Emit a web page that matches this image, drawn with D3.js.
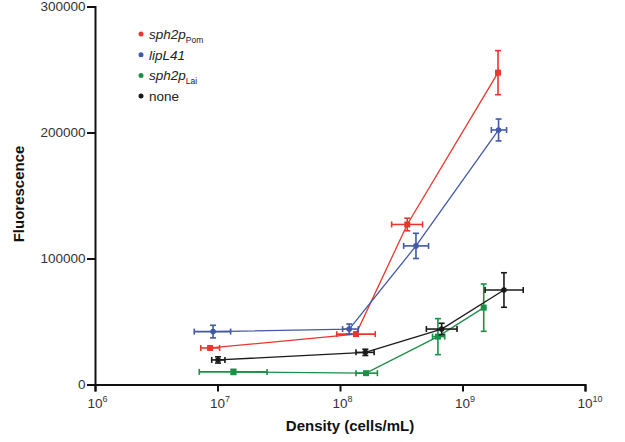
<!DOCTYPE html>
<html><head><meta charset="utf-8">
<script src="https://cdn.jsdelivr.net/npm/d3@7"></script>
<style>
body{margin:0;background:#fff;}
text{font-family:"Liberation Sans",Arial,sans-serif;}
</style></head>
<body><svg id="c" width="625" height="442"></svg>
<script>
const seriesNames = ["sph2p|Pom", "lipL41", "sph2p|Lai", "none"];
const seriesColors = ["#e8372c", "#4159a6", "#199146", "#1a1a1a"];
const seriesShapes = ["square", "circle", "square", "circle"];

const redX   = [8.7e6, 1.35e8, 3.54e8, 1.95e9];
const redXLo = [7.3e6, 9.4e7, 2.64e8, 1.95e9];
const redXHi = [1.04e7, 1.94e8, 4.72e8, 1.95e9];
const redY   = [29000, 40000, 127000, 247500];
const redYErr= [1000, 1500, 5000, 17500];

const blueX   = [9.2e6, 1.19e8, 4.17e8, 1.97e9];
const blueXLo = [6.46e6, 1.05e8, 3.31e8, 1.72e9];
const blueXHi = [1.28e7, 1.41e8, 5.28e8, 2.29e9];
const blueY   = [42000, 44000, 110000, 202000];
const blueYErr= [5000, 4000, 10000, 8700];

const greenX   = [1.35e7, 1.63e8, 6.3e8, 1.49e9];
const greenXLo = [7.1e6, 1.35e8, 5.69e8, 1.49e9];
const greenXHi = [2.54e7, 2.02e8, 7.16e8, 1.49e9];
const greenY   = [10000, 9000, 38000, 61000];
const greenYErr= [2000, 500, 14300, 18800];

const blackX   = [1.01e7, 1.61e8, 6.76e8, 2.18e9];
const blackXLo = [8.97e6, 1.35e8, 5.07e8, 1.53e9];
const blackXHi = [1.15e7, 1.90e8, 9.02e8, 3.13e9];
const blackY   = [19500, 25500, 44000, 75000];
const blackYErr= [2500, 2500, 4600, 13700];

const yTicks = [0, 100000, 200000, 300000];
const xTickExps = [6, 7, 8, 9, 10];

const series = [
  {x: redX, xl: redXLo, xh: redXHi, y: redY, ye: redYErr},
  {x: blueX, xl: blueXLo, xh: blueXHi, y: blueY, ye: blueYErr},
  {x: greenX, xl: greenXLo, xh: greenXHi, y: greenY, ye: greenYErr},
  {x: blackX, xl: blackXLo, xh: blackXHi, y: blackY, ye: blackYErr}
].map((s, i) => ({
  name: seriesNames[i], color: seriesColors[i], shape: seriesShapes[i],
  pts: s.x.map((v, j) => ({x: v, xl: s.xl[j], xh: s.xh[j], y: s.y[j], ye: s.ye[j]}))
}));

const svg = d3.select("#c");
const x = d3.scaleLog().domain([1e6, 1e10]).range([95, 585]);
const y = d3.scaleLinear().domain([0, 300000]).range([384.5, 6.5]);

// axes
const yAxis = svg.append("g").attr("transform", "translate(95,0)")
  .call(d3.axisLeft(y).tickValues(yTicks).tickFormat(d3.format("d")).tickSize(8).tickPadding(1.5));
const xAxis = svg.append("g").attr("transform", "translate(0,384.5)")
  .call(d3.axisBottom(x).tickValues(xTickExps.map(e => Math.pow(10, e))).tickFormat("").tickSize(7));
[yAxis, xAxis].forEach(a => {
  a.select(".domain").attr("stroke", "#111").attr("stroke-width", 2);
  a.selectAll(".tick line").attr("stroke", "#111").attr("stroke-width", 2);
});
yAxis.selectAll(".tick text").attr("font-size", 13.5).attr("fill", "#333")
  .attr("font-family", "Liberation Sans, Arial, sans-serif");

const xl = svg.append("g");
xTickExps.forEach(e => {
  const px = x(Math.pow(10, e));
  xl.append("text").attr("x", px + 7.5).attr("y", 408).attr("text-anchor", "end")
    .attr("font-size", 13.5).attr("fill", "#333").text("10");
  xl.append("text").attr("x", px + 7.5).attr("y", 401.5).attr("text-anchor", "start")
    .attr("font-size", 9).attr("fill", "#333").text(e);
});

svg.append("text").attr("x", 350).attr("y", 431).attr("text-anchor", "middle")
  .attr("font-size", 15).attr("font-weight", "bold").attr("fill", "#111").text("Density (cells/mL)");
svg.append("text").attr("transform", "translate(24,194) rotate(-90)").attr("text-anchor", "middle")
  .attr("font-size", 15).attr("font-weight", "bold").attr("fill", "#111").text("Fluorescence");

// series
const line = d3.line().x(d => x(d.x)).y(d => y(d.y));
const cap = 3;
series.forEach(s => {
  const g = svg.append("g");
  g.append("path").attr("d", line(s.pts)).attr("fill", "none")
    .attr("stroke", s.color).attr("stroke-width", 1.3);
  s.pts.forEach(p => {
    const cx = x(p.x), cy = y(p.y);
    const eg = g.append("g").attr("stroke", s.color).attr("stroke-width", 1.6).attr("fill", "none");
    if (p.xh > p.xl) {
      eg.append("line").attr("x1", x(p.xl)).attr("x2", x(p.xh)).attr("y1", cy).attr("y2", cy);
      eg.append("line").attr("x1", x(p.xl)).attr("x2", x(p.xl)).attr("y1", cy - cap).attr("y2", cy + cap);
      eg.append("line").attr("x1", x(p.xh)).attr("x2", x(p.xh)).attr("y1", cy - cap).attr("y2", cy + cap);
    }
    if (p.ye > 0) {
      const y1 = y(p.y + p.ye), y2 = y(p.y - p.ye);
      eg.append("line").attr("x1", cx).attr("x2", cx).attr("y1", y1).attr("y2", y2);
      eg.append("line").attr("x1", cx - cap).attr("x2", cx + cap).attr("y1", y1).attr("y2", y1);
      eg.append("line").attr("x1", cx - cap).attr("x2", cx + cap).attr("y1", y2).attr("y2", y2);
    }
    if (s.shape === "square") {
      g.append("rect").attr("x", cx - 3).attr("y", cy - 3).attr("width", 6).attr("height", 6).attr("fill", s.color);
    } else {
      g.append("circle").attr("cx", cx).attr("cy", cy).attr("r", 2.8).attr("fill", s.color);
    }
  });
});

// legend
const lg = svg.append("g");
series.forEach((s, i) => {
  const ly = 34 + i * 20.7;
  lg.append("circle").attr("cx", 141).attr("cy", ly).attr("r", 2.5).attr("fill", s.color);
  const parts = s.name.split("|");
  const t = lg.append("text").attr("x", 149).attr("y", ly + 5).attr("font-size", 13.5).attr("fill", "#222");
  if (s.name === "none") { t.text("none"); }
  else {
    t.append("tspan").attr("font-style", "italic").text(parts[0]);
    if (parts[1]) t.append("tspan").attr("font-size", 8.5).attr("dy", 3.5).text(parts[1]);
  }
});
</script></body></html>
